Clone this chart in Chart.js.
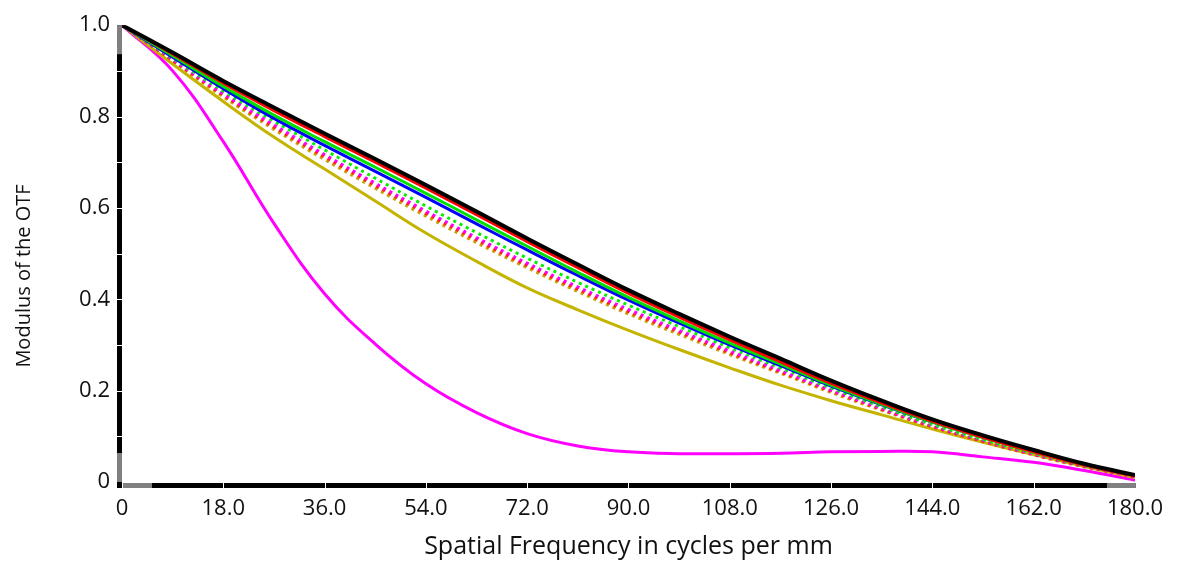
<!DOCTYPE html>
<html>
<head>
<meta charset="utf-8">
<script src="https://cdn.jsdelivr.net/npm/chart.js@4/dist/chart.umd.min.js"></script>
<style>
  html, body { margin: 0; padding: 0; background: #fff; }
  #wrap { width: 1177px; height: 563px; position: relative; }
</style>
</head>
<body>
<div id="wrap"><canvas id="otfChart"></canvas></div>
<script>
// Spatial frequency samples (cycles per mm)
const freqs = [0, 9, 18, 27, 36, 45, 54, 63, 72, 81, 90, 99, 108, 117, 126, 135, 144, 153, 162, 171, 180];
const xTicks = [0, 18, 36, 54, 72, 90, 108, 126, 144, 162, 180];
const yTicks = [0, 0.2, 0.4, 0.6, 0.8, 1.0];

// MTF values
const blackSolid   = [1.0, 0.94, 0.878, 0.82, 0.763, 0.707, 0.65, 0.592, 0.533, 0.476, 0.42, 0.368, 0.318, 0.27, 0.222, 0.178, 0.137, 0.102, 0.07, 0.04, 0.015];
const redSolid     = [1.0, 0.937, 0.873, 0.813, 0.756, 0.70, 0.643, 0.585, 0.526, 0.469, 0.413, 0.361, 0.311, 0.263, 0.216, 0.173, 0.133, 0.098, 0.066, 0.037, 0.013];
const greenSolid   = [1.0, 0.933, 0.866, 0.803, 0.745, 0.689, 0.632, 0.574, 0.516, 0.459, 0.404, 0.353, 0.304, 0.258, 0.212, 0.17, 0.131, 0.097, 0.066, 0.038, 0.014];
const blueSolid    = [1.0, 0.93, 0.861, 0.796, 0.737, 0.68, 0.623, 0.565, 0.508, 0.452, 0.398, 0.348, 0.30, 0.255, 0.21, 0.169, 0.131, 0.098, 0.067, 0.039, 0.015];
const greenDotted  = [1.0, 0.928, 0.856, 0.79, 0.727, 0.665, 0.604, 0.546, 0.49, 0.437, 0.387, 0.34, 0.294, 0.25, 0.206, 0.165, 0.126, 0.093, 0.063, 0.036, 0.013];
const magentaDotted= [1.0, 0.925, 0.85, 0.782, 0.717, 0.654, 0.593, 0.535, 0.479, 0.427, 0.378, 0.332, 0.287, 0.244, 0.201, 0.161, 0.123, 0.091, 0.061, 0.035, 0.012];
const redDotted    = [1.0, 0.923, 0.847, 0.777, 0.712, 0.649, 0.588, 0.53, 0.474, 0.422, 0.373, 0.328, 0.283, 0.241, 0.199, 0.159, 0.121, 0.089, 0.06, 0.034, 0.011];
const oliveDotted  = [1.0, 0.921, 0.843, 0.772, 0.706, 0.643, 0.582, 0.524, 0.469, 0.417, 0.368, 0.323, 0.279, 0.238, 0.196, 0.157, 0.12, 0.088, 0.059, 0.033, 0.011];
const oliveSolid   = [1.0, 0.915, 0.833, 0.755, 0.685, 0.615, 0.545, 0.483, 0.425, 0.377, 0.332, 0.29, 0.25, 0.212, 0.178, 0.147, 0.116, 0.087, 0.06, 0.034, 0.01];
const magentaSolid = [1.0, 0.9, 0.745, 0.566, 0.412, 0.302, 0.215, 0.152, 0.106, 0.079, 0.066, 0.062, 0.062, 0.063, 0.066, 0.067, 0.066, 0.055, 0.043, 0.025, 0.004];

const FONT = '"Open Sans", "Noto Sans", sans-serif';

function series(values, color, width, dashed) {
    return {
        data: freqs.map((f, i) => ({ x: f, y: values[i] })),
        borderColor: color,
        borderWidth: width,
        borderDash: dashed ? [3, 4] : [],
        borderCapStyle: 'butt',
        pointRadius: 0,
        fill: false,
        tension: 0.4
    };
}

// Thick axis bars with grey end pieces and small white notches at the ticks
const axisBars = {
    id: 'axisBars',
    beforeDatasetsDraw(chart) {
        const { ctx, chartArea, scales } = chart;
        const { left, right, top, bottom } = chartArea;
        const bar = 5, endLen = 29;
        ctx.save();
        // y axis
        ctx.fillStyle = '#000';
        ctx.fillRect(left - 5, top, bar, bottom - top + 6);
        ctx.fillStyle = '#808080';
        ctx.fillRect(left - 5, top, bar, endLen);
        ctx.fillRect(left - 5, bottom - endLen, bar, endLen);
        // x axis
        ctx.fillStyle = '#000';
        ctx.fillRect(left + 1, bottom + 1, right - left, bar);
        ctx.fillStyle = '#808080';
        ctx.fillRect(left + 1, bottom + 1, endLen, bar);
        ctx.fillRect(right - endLen + 1, bottom + 1, endLen, bar);
        // notches
        ctx.fillStyle = '#fff';
        for (let v = 0.1; v < 0.95; v += 0.1) {
            const y = Math.round(scales.y.getPixelForValue(v));
            ctx.fillRect(left - 5, y, bar, 1);
        }
        xTicks.slice(1, -1).forEach(v => {
            const x = Math.round(scales.x.getPixelForValue(v));
            ctx.fillRect(x, bottom + 1, 1, bar);
        });
        // y axis title, placed a bit below the plot centre like the original
        ctx.translate(24, 276);
        ctx.rotate(-Math.PI / 2);
        ctx.fillStyle = '#111';
        ctx.font = '20px ' + FONT;
        ctx.textAlign = 'center';
        ctx.textBaseline = 'middle';
        ctx.fillText('Modulus of the OTF', 0, 0);
        ctx.restore();
    }
};

const ctx = document.getElementById('otfChart').getContext('2d');
new Chart(ctx, {
    type: 'line',
    data: {
        datasets: [
            series(magentaSolid, '#ff00ff', 3, false),
            series(oliveSolid, '#c4b400', 3, false),
            series(oliveDotted, '#c8a000', 3, true),
            series(redDotted, '#ff2020', 3, true),
            series(magentaDotted, '#ff00ff', 3, true),
            series(greenDotted, '#00ee00', 3, true),
            series(blueSolid, '#0000ff', 3, false),
            series(greenSolid, '#00e000', 3, false),
            series(redSolid, '#ff0000', 3, false),
            series(blackSolid, '#000000', 4, false)
        ].reverse()
    },
    options: {
        responsive: true,
        maintainAspectRatio: false,
        animation: false,
        layout: { padding: { top: 20, right: 37, left: 0, bottom: 0 } },
        plugins: {
            legend: { display: false },
            tooltip: { enabled: false }
        },
        scales: {
            x: {
                type: 'linear',
                min: 0,
                max: 180,
                grid: { display: false, drawTicks: false },
                border: { display: false },
                afterBuildTicks: s => { s.ticks = xTicks.map(v => ({ value: v })); },
                afterFit: s => { s.height = 81; },
                ticks: {
                    padding: 14,
                    maxRotation: 0,
                    color: '#111',
                    font: { family: FONT, size: 22 },
                    callback: v => v === 0 ? '0' : v.toFixed(1)
                },
                title: {
                    display: true,
                    text: 'Spatial Frequency in cycles per mm',
                    color: '#111',
                    font: { family: FONT, size: 25 },
                    padding: { top: 0, bottom: 1 }
                }
            },
            y: {
                min: 0,
                max: 1,
                grid: { display: false, drawTicks: false },
                border: { display: false },
                afterBuildTicks: s => { s.ticks = yTicks.map(v => ({ value: v })); },
                afterFit: s => { s.width = 122; },
                ticks: {
                    padding: 12,
                    color: '#111',
                    font: { family: FONT, size: 22 },
                    callback: v => v === 0 ? '0' : v.toFixed(1)
                }
            }
        }
    },
    plugins: [axisBars]
});
</script>
</body>
</html>
